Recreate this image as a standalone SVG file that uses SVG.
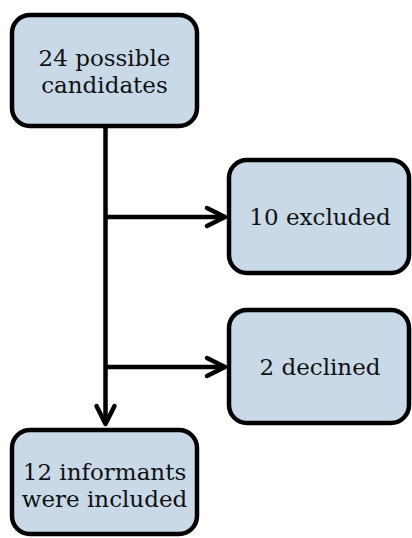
<svg xmlns="http://www.w3.org/2000/svg" width="412" height="538" viewBox="0 0 412 538">
<style>
.box{fill:#c9d9e8;stroke:#000;stroke-width:4.5}
.t{font-family:"DejaVu Serif","Liberation Serif",serif;font-size:23px;fill:#111;text-anchor:middle}
.c{stroke:#000;stroke-width:4.5;fill:none}
</style>
<defs>
<marker id="ah" markerUnits="userSpaceOnUse" markerWidth="30" markerHeight="30" refX="0" refY="0" orient="auto" viewBox="-25 -15 30 30" overflow="visible">
<path d="M-18,-9 L0,0 L-18,9" fill="none" stroke="#000" stroke-width="4.5" stroke-linecap="round" stroke-linejoin="round"/>
</marker>
</defs>
<g id="connectors">
<path class="c" d="M105.5,128 V424" marker-end="url(#ah)"/>
<path class="c" d="M105.5,217 H225" marker-end="url(#ah)"/>
<path class="c" d="M105.5,367 H225" marker-end="url(#ah)"/>
</g>
<g id="n1">
<rect class="box" x="12" y="15" width="185" height="111" rx="18"/>
<text class="t" x="104.5" y="66">24 possible</text>
<text class="t" x="104.5" y="93">candidates</text>
</g>
<g id="n2">
<rect class="box" x="229" y="160" width="180" height="113" rx="18"/>
<text class="t" x="320" y="225">10 excluded</text>
</g>
<g id="n3">
<rect class="box" x="229" y="310" width="180" height="113" rx="18"/>
<text class="t" x="320" y="375">2 declined</text>
</g>
<g id="n4">
<rect class="box" x="12" y="430" width="185" height="104" rx="18"/>
<text class="t" x="104.5" y="480">12 informants</text>
<text class="t" x="104.5" y="507">were included</text>
</g>
</svg>
